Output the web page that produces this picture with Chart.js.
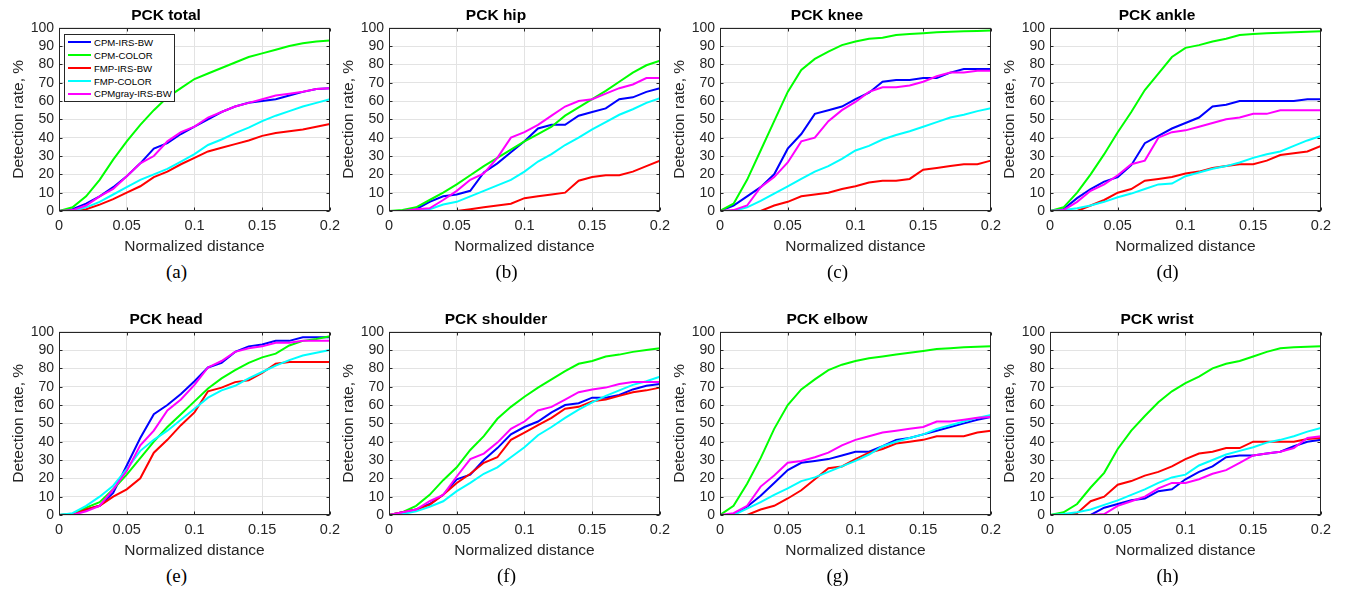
<!DOCTYPE html>
<html>
<head>
<meta charset="utf-8">
<script src="https://cdn.jsdelivr.net/npm/chart.js@4.4.1/dist/chart.umd.min.js"></script>
<style>
body { margin: 0; background: #fff; }
#page { position: relative; width: 1347px; height: 591px; overflow: hidden; background: #fff; }
#page canvas { position: absolute; }
.sub { position: absolute; font-family: 'Liberation Serif', serif; font-size: 19px; color: #000; transform: translate(-50%, -50%); }
#legend { position: absolute; left: 64px; top: 34px; width: 109px; height: 66px; border: 1px solid #262626; background: #fff;
  font-family: 'Liberation Sans', Arial, sans-serif; font-size: 9.6px; color: #000; }
#legend .item { position: absolute; left: 0; height: 13px; display: flex; align-items: center; white-space: nowrap; }
#legend .line { display: inline-block; width: 23px; height: 2px; margin: 0 3px; }
</style>
</head>
<body>
<div id="page"><div id="legend"></div></div>
<script>
// Normalized distance thresholds (x values)
var distances = [0, 0.01, 0.02, 0.03, 0.04, 0.05, 0.06, 0.07, 0.08, 0.09, 0.1,
                 0.11, 0.12, 0.13, 0.14, 0.15, 0.16, 0.17, 0.18, 0.19, 0.2];

var seriesNames = ["CPM-IRS-BW", "CPM-COLOR", "FMP-IRS-BW", "FMP-COLOR", "CPMgray-IRS-BW"];
var seriesColors = ["#0000ff", "#00ff00", "#ff0000", "#00ffff", "#ff00ff"];

var xTickValues = [0, 0.05, 0.1, 0.15, 0.2];
var xTickLabels = ["0", "0.05", "0.1", "0.15", "0.2"];
var yTickValues = [0, 10, 20, 30, 40, 50, 60, 70, 80, 90, 100];
var yTickLabels = ["0", "10", "20", "30", "40", "50", "60", "70", "80", "90", "100"];

var panelTitles = ["PCK total", "PCK hip", "PCK knee", "PCK ankle", "PCK head", "PCK shoulder", "PCK elbow", "PCK wrist"];
var panelLetters = ["(a)", "(b)", "(c)", "(d)", "(e)", "(f)", "(g)", "(h)"];

// each panel: one row per series, in seriesNames order
var pckTotal = [
    [0, 1, 4, 8, 13, 19, 26, 34, 37, 42, 46, 50, 54, 57, 59, 60, 61, 63, 65, 66.5, 67],
    [0, 2, 8, 17, 28, 38, 47, 55, 62, 67, 72, 75, 78, 81, 84, 86, 88, 90, 91.5, 92.5, 93],
    [0, 0, 1, 3.5, 6.5, 10, 13.5, 18.5, 21.5, 25.5, 29, 32.5, 34.5, 36.5, 38.5, 41, 42.5, 43.5, 44.5, 46, 47.5],
    [0, 0, 2, 5, 9, 13, 17, 20, 23, 27, 31, 36, 39, 42.5, 45.5, 49, 52, 54.5, 57, 59, 61],
    [0, 0.5, 3, 8, 12, 19, 26, 30, 38, 43, 46, 51, 54, 57, 59, 61, 63, 64, 65, 66.5, 67]
];
var pckHip = [
    [0, 0, 1, 5, 8, 9, 11, 21, 26, 32, 38, 45, 47, 47, 52, 54, 56, 61, 62, 65, 67],
    [0, 0.5, 2, 6, 10, 14.5, 19.5, 24.5, 29, 33.5, 38, 42, 46, 52, 56.5, 61, 65.5, 70.5, 75.5, 79.5, 82],
    [0, 0, 0, 0, 0, 0, 1, 2, 3, 4, 7, 8, 9, 10, 16.5, 18.5, 19.5, 19.5, 21.5, 24.5, 27.5],
    [0, 0, 0, 1, 3.5, 5, 8, 11, 14, 17, 21.5, 27, 31, 36, 40, 44.5, 48.5, 52.5, 55.5, 59, 61.5],
    [0, 0, 1, 1.5, 6, 11, 17, 20.5, 29, 40, 43, 47, 52, 57, 60, 61, 64, 67, 69, 72.5, 72.5]
];
var pckKnee = [
    [0, 3, 8, 13, 20, 34, 42, 53, 55, 57, 61, 64.5, 70.5, 71.5, 71.5, 72.5, 72.5, 75.5, 77.5, 77.5, 77.5],
    [0, 4, 17, 33, 49, 65, 77, 83, 87, 90.5, 92.5, 94, 94.5, 96, 96.5, 97, 97.5, 97.8, 98, 98.2, 98.5],
    [0, 0, 0, 0, 3, 5, 8, 9, 10, 12, 13.5, 15.5, 16.5, 16.5, 17.5, 22.5, 23.5, 24.5, 25.5, 25.5, 27.5],
    [0, 0, 2, 5.5, 9.5, 13.5, 17.5, 21.5, 24.5, 28.5, 33, 35.5, 39, 41.5, 43.5, 46, 48.5, 51, 52.5, 54.5, 56],
    [0, 0.5, 3, 13, 18.5, 26.5, 38, 40, 49, 55, 59.5, 65, 67.5, 67.5, 68.5, 70.5, 73.5, 75.5, 75.5, 76.5, 76.5]
];
var pckAnkle = [
    [0, 1, 7, 12, 16, 18.5, 25, 37, 41, 45, 48, 51, 57, 58, 60, 60, 60, 60, 60, 61, 61],
    [0, 2, 10, 20, 31, 43, 54, 66, 75, 84, 89, 90.5, 92.5, 94, 96, 96.5, 97, 97.3, 97.5, 97.8, 98],
    [0, 0, 0, 3, 6, 10, 12, 16.5, 17.5, 18.5, 20.5, 21.5, 23.5, 24.5, 25.5, 25.5, 27.5, 30.5, 31.5, 32.5, 35.5],
    [0, 0.5, 1.5, 3, 5, 7.5, 9.5, 12, 14.5, 15, 19, 21, 23, 24.5, 26.5, 29, 31, 32.5, 35.5, 38.5, 41],
    [0, 0.5, 5, 11, 14.5, 19.5, 25.5, 27.5, 40, 43, 44, 46, 48, 50, 51, 53, 53, 55, 55, 55, 55]
];
var pckHead = [
    [0, 0.5, 3, 5, 12, 27, 42, 55, 60, 66, 73, 80.5, 83, 89, 92, 93, 95, 95, 97, 97, 97],
    [0, 0.5, 4, 7, 14, 22, 31, 40, 48, 55, 62, 69, 74.5, 79, 83, 86, 88, 92.5, 95, 96, 97.5],
    [0, 0, 3, 5, 10, 14, 20, 34, 41, 49, 56, 67.5, 69.5, 72.5, 73.5, 77.5, 82.5, 83.5, 83.5, 83.5, 83.5],
    [0, 1, 5, 10, 16, 25, 35, 41, 46, 52, 58, 64, 68, 70.5, 74.5, 78, 81.5, 84.5, 87, 88.5, 90],
    [0, 0, 2, 5, 14, 24, 38, 46, 57, 63, 71, 80.5, 84, 89, 91, 92, 94, 94, 95, 95, 95]
];
var pckShoulder = [
    [0, 1.5, 3, 6, 11, 19.5, 22, 30, 36.5, 44, 48, 51, 56, 60, 61, 64, 64, 65.5, 68.5, 70.5, 71.5],
    [0, 1.5, 5, 11, 19, 26, 35.5, 43, 52.5, 59, 64.5, 69.5, 74, 78.5, 82.5, 84, 86.5, 87.5, 89, 90, 91],
    [0, 1.5, 3, 5.5, 11, 17.5, 22.5, 28.5, 31.5, 41, 45, 49, 53, 58, 59, 62, 63, 65, 67, 68, 69.5],
    [0, 0.5, 2, 4.5, 7.5, 13, 17.5, 22.5, 26, 31.5, 37, 43.5, 48, 53, 57.5, 61.5, 65, 68, 71, 73, 75.5],
    [0, 1.5, 3, 7.5, 11, 21, 30.5, 33.5, 39.5, 47, 51, 57, 59, 63, 67, 68.5, 69.5, 71.5, 72.5, 72.5, 72.5]
];
var pckElbow = [
    [0, 0, 4.5, 10.5, 17.5, 24.5, 28.5, 29.5, 30.5, 32.5, 34.5, 34.5, 37.5, 41, 42, 44, 46, 48, 50, 52, 53.5],
    [0, 5, 17, 31, 47, 60, 68.5, 74, 79, 82, 84, 85.5, 86.5, 87.5, 88.5, 89.5, 90.5, 91, 91.5, 91.8, 92],
    [0, 0, 0, 3, 5, 9, 13.5, 19.5, 25.5, 26.5, 30.5, 34, 36, 39, 40, 41, 43, 43, 43, 45, 46],
    [0, 0, 3.5, 7, 11, 14.5, 18.5, 20.5, 23.5, 26.5, 29.5, 33, 37.5, 40, 42, 44, 47, 49, 51, 53, 54.5],
    [0, 1, 5, 15.5, 21.5, 28.5, 29.5, 31.5, 34, 38, 41, 43, 45, 46, 47, 48, 51, 51, 52, 53, 53.5]
];
var pckWrist = [
    [0, 0, 0, 0, 4, 6, 8, 9, 13, 14, 19.5, 23.5, 26.5, 31.5, 32.5, 32.5, 33.5, 34.5, 37.5, 40, 41],
    [0, 1.5, 6, 15, 23, 36, 46, 54, 61.5, 67.5, 72, 75.5, 80, 82.5, 84, 86.5, 89, 91, 91.5, 91.8, 92],
    [0, 0, 1, 7.5, 10, 16.5, 18.5, 21.5, 23.5, 26.5, 30.5, 33.5, 34.5, 36.5, 36.5, 40, 40, 40, 40, 41.5, 42],
    [0, 0.5, 1.5, 3, 5.5, 8, 11, 14, 17.5, 20.5, 22, 27, 30, 33, 35, 37, 39.5, 41, 43, 45.5, 47.5],
    [0, 0, 0, 0, 0.5, 5, 7.5, 10, 14.5, 17.5, 17.5, 19.5, 22.5, 24.5, 28.5, 32.5, 33.5, 34.5, 36.5, 42, 43]
];
var panelData = [pckTotal, pckHip, pckKnee, pckAnkle, pckHead, pckShoulder, pckElbow, pckWrist];

// page layout
var colLefts = [0, 330, 661, 991];
var rowTops = [0, 304];
var canvasW = 346, canvasH = 256;

Chart.defaults.font.family = "'Liberation Sans', Arial, Helvetica, sans-serif";
Chart.defaults.color = '#262626';

// MATLAB-style box around the axes with inward tick marks
var boxPlugin = {
    id: 'matlabBox',
    afterDraw: function(chart) {
        var ctx = chart.ctx, a = chart.chartArea;
        var l = Math.round(a.left) + 0.5, r = Math.round(a.right) - 0.5;
        var t = Math.round(a.top) + 0.5, b = Math.round(a.bottom) - 0.5;
        ctx.save();
        ctx.strokeStyle = '#262626';
        ctx.lineWidth = 1;
        ctx.beginPath();
        chart.scales.x.ticks.forEach(function(tk) {
            var px = Math.round(chart.scales.x.getPixelForValue(tk.value)) + 0.5;
            ctx.moveTo(px, b); ctx.lineTo(px, b - 3);
            ctx.moveTo(px, t); ctx.lineTo(px, t + 3);
        });
        chart.scales.y.ticks.forEach(function(tk) {
            var py = Math.round(chart.scales.y.getPixelForValue(tk.value)) + 0.5;
            ctx.moveTo(l, py); ctx.lineTo(l + 3, py);
            ctx.moveTo(r, py); ctx.lineTo(r - 3, py);
        });
        ctx.stroke();
        ctx.strokeRect(l, t, r - l, b - t);
        ctx.restore();
    }
};

var page = document.getElementById('page');

panelData.forEach(function(rows, p) {
    var col = p % 4, row = Math.floor(p / 4);
    var canvas = document.createElement('canvas');
    canvas.width = canvasW;
    canvas.height = canvasH;
    canvas.style.left = colLefts[col] + 'px';
    canvas.style.top = rowTops[row] + 'px';
    canvas.style.width = canvasW + 'px';
    canvas.style.height = canvasH + 'px';
    page.insertBefore(canvas, document.getElementById('legend'));

    var datasets = rows.map(function(vals, i) {
        return {
            label: seriesNames[i],
            data: vals.map(function(v, k) { return {x: distances[k], y: v}; }),
            borderColor: seriesColors[i],
            backgroundColor: seriesColors[i],
            borderWidth: 2,
            pointRadius: 0,
            tension: 0,
            fill: false,
            order: seriesNames.length - i
        };
    });

    new Chart(canvas, {
        type: 'line',
        data: { datasets: datasets },
        options: {
            responsive: false,
            animation: false,
            devicePixelRatio: 1,
            layout: { padding: { left: 0, top: 0, right: 14, bottom: 0 } },
            scales: {
                x: {
                    type: 'linear',
                    min: 0,
                    max: 0.2,
                    afterBuildTicks: function(scale) {
                        scale.ticks = xTickValues.map(function(v) { return {value: v}; });
                    },
                    afterFit: function(scale) { scale.height = 45; },
                    ticks: {
                        autoSkip: false,
                        maxRotation: 0,
                        padding: 6,
                        font: { size: 14.5 },
                        color: '#262626',
                        callback: function(v, i) { return xTickLabels[i]; }
                    },
                    grid: { color: '#e3e3e3', drawTicks: false },
                    border: { display: false },
                    title: {
                        display: true,
                        text: 'Normalized distance',
                        font: { size: 15.5 },
                        color: '#262626',
                        padding: { top: 0, bottom: 0 }
                    }
                },
                y: {
                    type: 'linear',
                    min: 0,
                    max: 100,
                    afterBuildTicks: function(scale) {
                        scale.ticks = yTickValues.map(function(v) { return {value: v}; });
                    },
                    afterFit: function(scale) { scale.width = 59; },
                    ticks: {
                        autoSkip: false,
                        padding: 5,
                        font: { size: 14 },
                        color: '#262626',
                        callback: function(v, i) { return yTickLabels[i]; }
                    },
                    grid: { color: '#e3e3e3', drawTicks: false },
                    border: { display: false },
                    title: {
                        display: true,
                        text: 'Detection rate, %',
                        font: { size: 15.5 },
                        color: '#262626',
                        padding: { top: 9, bottom: 0 }
                    }
                }
            },
            plugins: {
                legend: { display: false },
                tooltip: { enabled: false },
                title: {
                    display: true,
                    text: panelTitles[p],
                    font: { size: 15.5, weight: 'bold' },
                    color: '#000',
                    padding: { top: 6.5, bottom: 2.6 }
                }
            }
        },
        plugins: [boxPlugin]
    });

    var lab = document.createElement('div');
    lab.className = 'sub';
    lab.textContent = panelLetters[p];
    lab.style.left = (colLefts[col] + 59 + 117.5) + 'px';
    lab.style.top = (rowTops[row] + 272) + 'px';
    page.appendChild(lab);
});

// legend inside the first panel
var legend = document.getElementById('legend');
seriesNames.forEach(function(name, i) {
    var item = document.createElement('div');
    item.className = 'item';
    item.style.top = (0.8 + 12.9 * i) + 'px';
    var line = document.createElement('span');
    line.className = 'line';
    line.style.background = seriesColors[i];
    var txt = document.createElement('span');
    txt.textContent = name;
    item.appendChild(line);
    item.appendChild(txt);
    legend.appendChild(item);
});
</script>
</body>
</html>
